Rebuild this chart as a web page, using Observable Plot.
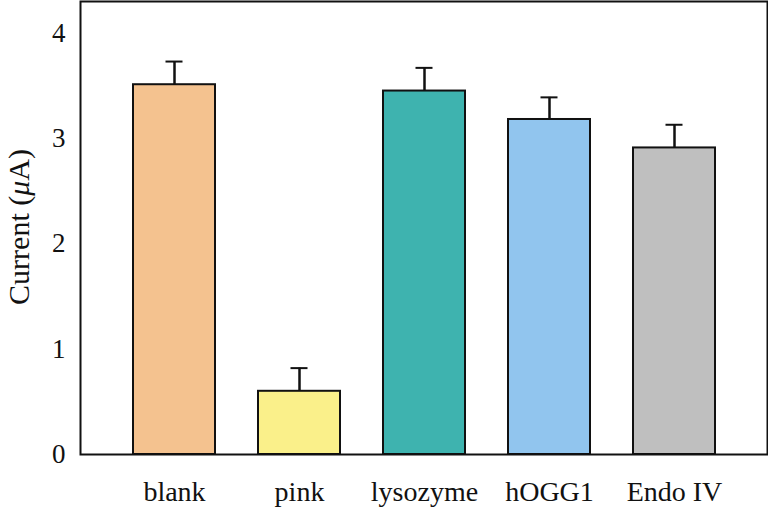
<!DOCTYPE html>
<html>
<head>
<meta charset="utf-8">
<script src="https://cdn.jsdelivr.net/npm/d3@7"></script>
<script src="https://cdn.jsdelivr.net/npm/@observablehq/plot@0.6"></script>
<style>
  html, body { margin: 0; padding: 0; background: #fff; }
</style>
</head>
<body>
<div id="chart"></div>
<script>
const categories = ["blank", "pink", "lysozyme", "hOGG1", "Endo IV"];
const values = [3.51, 0.60, 3.45, 3.18, 2.91];
const errors = [0.22, 0.22, 0.22, 0.21, 0.22];
const colors = ["#F4C28F", "#FAF08A", "#3EB3AF", "#91C5EE", "#BFBFBF"];
const yTicks = [0, 1, 2, 3, 4];

const data = categories.map((c, i) => ({cat: c, v: values[i], e: errors[i], color: colors[i]}));

const font = "'Liberation Serif', 'DejaVu Serif', serif";

const chart = Plot.plot({
  width: 768,
  height: 512,
  marginLeft: 80,
  marginRight: 1,
  marginTop: 1,
  marginBottom: 58,
  style: {fontFamily: font, fontSize: "27px", background: "#fff", color: "#111"},
  x: {domain: categories, paddingInner: 0.344, paddingOuter: 0.4, align: 0.5},
  y: {domain: [0, 4.3]},
  marks: [
    Plot.barY(data, {x: "cat", y: "v", fill: "color", stroke: "#111", strokeWidth: 2}),
    Plot.ruleX(data, {x: "cat", y1: "v", y2: d => d.v + d.e, stroke: "#111", strokeWidth: 2.5}),
    Plot.tickY(data, {x: "cat", y: d => d.v + d.e, stroke: "#111", strokeWidth: 2, insetLeft: 32.5, insetRight: 32.5}),
    Plot.axisX({label: null, tickSize: 0, tickPadding: 27, fontSize: 28, fontFamily: font, fill: "#111"}),
    Plot.axisY({ticks: yTicks, tickFormat: d3.format("d"), label: null, tickSize: 0, tickPadding: 15, fontSize: 27, fontFamily: font, fill: "#111"}),
    Plot.frame({stroke: "#111", strokeWidth: 2})
  ]
});

const svg = d3.select(chart);
const t = svg.append("text")
  .attr("transform", "translate(18,227) rotate(-90)")
  .attr("text-anchor", "middle")
  .attr("dy", "0.35em")
  .attr("font-family", font)
  .attr("font-size", "30px")
  .attr("fill", "#111");
t.append("tspan").text("Current (");
t.append("tspan").attr("font-style", "italic").text("μ");
t.append("tspan").text("A)");

document.getElementById("chart").appendChild(chart);
</script>
</body>
</html>
